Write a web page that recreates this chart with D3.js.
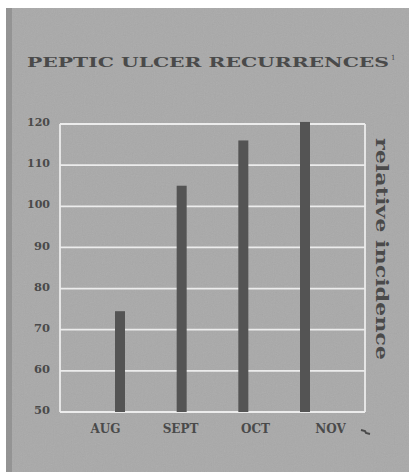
<!DOCTYPE html>
<html><head><meta charset="utf-8">
<script src="https://cdn.jsdelivr.net/npm/d3@7"></script>
<style>html,body{margin:0;padding:0;background:#fff;}svg{display:block;}</style>
</head><body>
<script>
const months = ["AUG", "SEPT", "OCT", "NOV"];
const incidence = [74.5, 105, 116, 120.5];
const yTicks = [50, 60, 70, 80, 90, 100, 110, 120];
const title = "PEPTIC ULCER RECURRENCES";
const yLabel = "relative incidence";

const W = 409, H = 472;
const svg = d3.select("body").append("svg").attr("width", W).attr("height", H);

const defs = svg.append("defs");
const f = defs.append("filter").attr("id", "grain").attr("x", 0).attr("y", 0).attr("width", "100%").attr("height", "100%");
f.append("feTurbulence").attr("type", "fractalNoise").attr("baseFrequency", 0.9).attr("numOctaves", 2).attr("seed", 3).attr("result", "n");
f.append("feColorMatrix").attr("type", "saturate").attr("values", 0);

// paper
svg.append("rect").attr("x", 0).attr("y", 0).attr("width", W).attr("height", H).attr("fill", "#fff");
svg.append("rect").attr("x", 6).attr("y", 8).attr("width", W - 6).attr("height", H - 8).attr("fill", "#a9a9a9");
svg.append("rect").attr("x", 6).attr("y", 8).attr("width", W - 6).attr("height", H - 8)
  .attr("filter", "url(#grain)").attr("opacity", 0.12);
svg.append("rect").attr("x", 6).attr("y", 8).attr("width", 6).attr("height", H - 8).attr("fill", "#8a8a8a").attr("opacity", 0.7);

const plotL = 60, plotR = 365, plotT = 124, plotB = 412;
const y = d3.scaleLinear().domain([50, 120]).range([plotB, plotT]);
const xBar = d3.scalePoint().domain(months).range([120, 305]);
const xLab = d3.scalePoint().domain(months).range([105, 330]);

const grid = svg.append("g");
grid.selectAll("line.h").data(yTicks).join("line")
  .attr("x1", plotL).attr("x2", plotR)
  .attr("y1", d => y(d)).attr("y2", d => y(d))
  .attr("stroke", "#ececec").attr("stroke-width", 1.8);
grid.append("line").attr("x1", plotL).attr("x2", plotL).attr("y1", plotT).attr("y2", plotB)
  .attr("stroke", "#ececec").attr("stroke-width", 1.8);
grid.append("line").attr("x1", plotR).attr("x2", plotR).attr("y1", plotT).attr("y2", plotB)
  .attr("stroke", "#ececec").attr("stroke-width", 1.8);

svg.append("g").selectAll("rect").data(months).join("rect")
  .attr("x", d => xBar(d) - 5)
  .attr("width", 10)
  .attr("y", (d, i) => y(incidence[i]))
  .attr("height", (d, i) => plotB - y(incidence[i]))
  .attr("fill", "#545454");

const font = "'DejaVu Serif', serif";
const ink = "#4a4a4a";

// y axis labels
const yAxis = d3.axisLeft(y).tickValues(yTicks).tickSize(0).tickPadding(0);
const gy = svg.append("g").attr("transform", "translate(50,-2)").call(yAxis);
gy.select(".domain").remove();
gy.selectAll("text").attr("font-family", font).attr("font-weight", "bold")
  .attr("font-size", 11.5).attr("fill", ink).attr("textLength", d => d >= 100 ? 23 : 16)
  .attr("lengthAdjust", "spacingAndGlyphs");

// x axis labels
const xAxis = d3.axisBottom(xLab).tickSize(0).tickPadding(0);
const gx = svg.append("g").attr("transform", "translate(0,424)").call(xAxis);
gx.select(".domain").remove();
gx.selectAll("text").attr("font-family", font).attr("font-weight", "bold")
  .attr("font-size", 12).attr("fill", ink).attr("dy", "0.71em");

// title
svg.append("text").attr("x", 27).attr("y", 67).text(title)
  .attr("font-family", font).attr("font-weight", "bold").attr("font-size", 12)
  .attr("fill", ink).attr("textLength", 362).attr("lengthAdjust", "spacingAndGlyphs");
svg.append("text").attr("x", 391).attr("y", 60).text("1")
  .attr("font-family", font).attr("font-size", 7).attr("fill", ink);

// right label
svg.append("text").attr("transform", "translate(376,138) rotate(90)")
  .text(yLabel).attr("font-family", font).attr("font-weight", "bold").attr("font-size", 16)
  .attr("fill", ink).attr("textLength", 222).attr("lengthAdjust", "spacingAndGlyphs");

// small mark near NOV
svg.append("path").attr("d", "M361,430 L365,431 L366,433 L370,434")
  .attr("fill", "none").attr("stroke", ink).attr("stroke-width", 2);
</script>
</body></html>
